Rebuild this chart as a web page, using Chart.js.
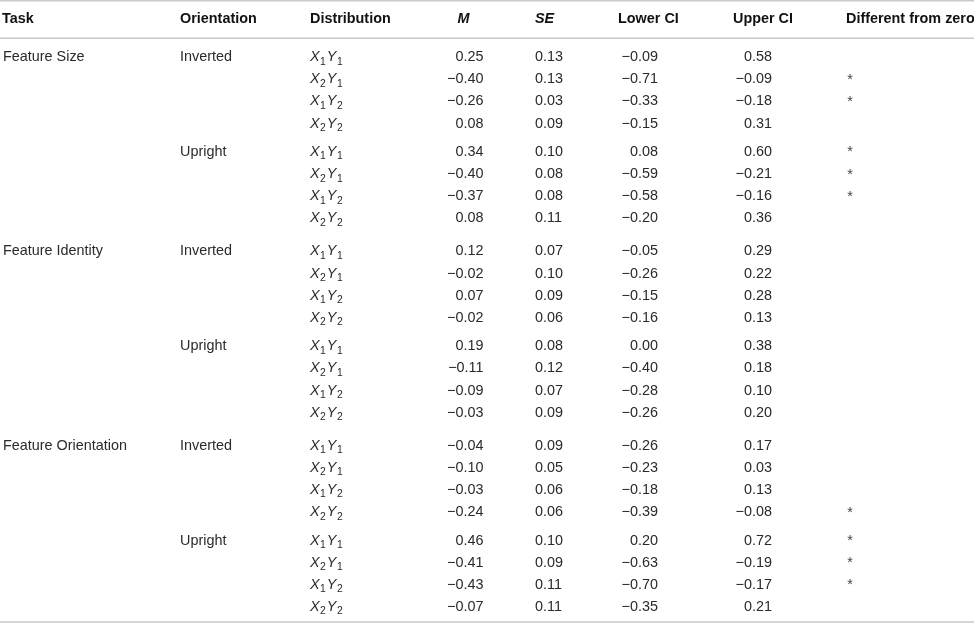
<!DOCTYPE html>
<html>
<head>
<meta charset="utf-8">
<script src="https://cdn.jsdelivr.net/npm/chart.js@4.4.1/dist/chart.umd.min.js"></script>
<style>
html,body{margin:0;padding:0;background:#fff;}
#wrap{width:974px;height:624px;}
</style>
</head>
<body>
<div id="wrap"><canvas id="c" width="974" height="624"></canvas></div>
<script>
// ---------------- DATA ----------------
const headers = ["Task", "Orientation", "Distribution", "M", "SE", "Lower CI", "Upper CI", "Different from zero"];
const tasks = ["Feature Size", "Feature Identity", "Feature Orientation"];
const orientations = ["Inverted", "Upright"];
const distributions = [["X", "1", "Y", "1"], ["X", "2", "Y", "1"], ["X", "1", "Y", "2"], ["X", "2", "Y", "2"]];
const meanValues = [0.25, -0.40, -0.26, 0.08, 0.34, -0.40, -0.37, 0.08,
                    0.12, -0.02, 0.07, -0.02, 0.19, -0.11, -0.09, -0.03,
                    -0.04, -0.10, -0.03, -0.24, 0.46, -0.41, -0.43, -0.07];
const seValues = [0.13, 0.13, 0.03, 0.09, 0.10, 0.08, 0.08, 0.11,
                  0.07, 0.10, 0.09, 0.06, 0.08, 0.12, 0.07, 0.09,
                  0.09, 0.05, 0.06, 0.06, 0.10, 0.09, 0.11, 0.11];
const lowerCI = [-0.09, -0.71, -0.33, -0.15, 0.08, -0.59, -0.58, -0.20,
                 -0.05, -0.26, -0.15, -0.16, 0.00, -0.40, -0.28, -0.26,
                 -0.26, -0.23, -0.18, -0.39, 0.20, -0.63, -0.70, -0.35];
const upperCI = [0.58, -0.09, -0.18, 0.31, 0.60, -0.21, -0.16, 0.36,
                 0.29, 0.22, 0.28, 0.13, 0.38, 0.18, 0.10, 0.20,
                 0.17, 0.03, 0.13, -0.08, 0.72, -0.19, -0.17, 0.21];
const differentFromZero = [0, 1, 1, 0, 1, 1, 1, 0,
                           0, 0, 0, 0, 0, 0, 0, 0,
                           0, 0, 0, 1, 1, 1, 1, 0];

// ---------------- LAYOUT (not data) ----------------
const FONT = '"Liberation Sans", Arial, Helvetica, sans-serif';
const SIZE = 14.4;
const TEXT_COLOR = '#2a2a2a';
const HEAD_COLOR = '#111';
const STAR_COLOR = '#444';
const RULE_COLOR = '#c9c9c9';
// column anchors in x-axis units (0..974 across the table)
const COLS = [
  {anchor: 3,     align: 'left'},   // Task
  {anchor: 180,   align: 'left'},   // Orientation
  {anchor: 310,   align: 'left'},   // Distribution
  {anchor: 483.5, align: 'right'},  // M
  {anchor: 535,   align: 'left'},   // SE
  {anchor: 658,   align: 'right'},  // Lower CI
  {anchor: 772,   align: 'right'},  // Upper CI
  {anchor: 850,   align: 'center'}  // Different from zero
];
const HEAD_POS = [2, 180, 310, 463.5, 535, 618, 733, 846];
const HEAD_ALIGN = ['left','left','left','center','left','left','left','left'];
const HEAD_STYLE = ['', '', '', 'italic', 'italic', '', '', ''];
// y-axis units are rows; extra gaps separate orientation / task groups
const ORIENT_GAP = 0.28, TASK_GAP = 0.49;
const Y_MIN = -2.528, Y_MAX = 25.643;
const HEADER_ROW = -1.716, TOP_RULE = -2.494, HEAD_RULE = -0.799, BOTTOM_RULE = 25.553;

const nPerOrient = distributions.length;
const nPerTask = nPerOrient * orientations.length;
function rowPos(k) {
  const t = Math.floor(k / nPerTask);                 // task breaks before row k
  const oInTask = Math.floor((k % nPerTask) / nPerOrient);
  const o = t * (orientations.length - 1) + oInTask;  // orientation breaks inside tasks
  return k + ORIENT_GAP * o + TASK_GAP * t;
}
const fmt = v => v.toFixed(2).replace('-', '\u2212');
const nRows = meanValues.length;

function cellDataset(col, labelFn, kind) {
  const pts = [], labels = [];
  for (let k = 0; k < nRows; k++) {
    const lab = labelFn(k);
    if (lab === null) continue;
    pts.push({x: COLS[col].anchor, y: rowPos(k)});
    labels.push(lab);
  }
  return {type: 'scatter', data: pts, cellLabels: labels, cellCol: col, cellKind: kind,
          pointRadius: 0, pointHoverRadius: 0, showLine: false};
}
const datasets = [
  cellDataset(0, k => (k % nPerTask === 0) ? tasks[Math.floor(k / nPerTask)] : null, 'text'),
  cellDataset(1, k => (k % nPerOrient === 0) ? orientations[Math.floor(k / nPerOrient) % orientations.length] : null, 'text'),
  cellDataset(2, k => distributions[k % nPerOrient], 'dist'),
  cellDataset(3, k => fmt(meanValues[k]), 'text'),
  cellDataset(4, k => fmt(seValues[k]), 'text'),
  cellDataset(5, k => fmt(lowerCI[k]), 'text'),
  cellDataset(6, k => fmt(upperCI[k]), 'text'),
  cellDataset(7, k => differentFromZero[k] ? '*' : null, 'star'),
  {type: 'scatter', data: HEAD_POS.map(x => ({x: x, y: HEADER_ROW})), cellLabels: headers, cellKind: 'head',
   pointRadius: 0, pointHoverRadius: 0, showLine: false}
];
[TOP_RULE, HEAD_RULE, BOTTOM_RULE].forEach(y => {
  datasets.push({type: 'line', data: [{x: 0, y: y}, {x: 974, y: y}], borderColor: RULE_COLOR,
                 borderWidth: 1.5, pointRadius: 0, pointHoverRadius: 0, fill: false, clip: false});
});

const tablePlugin = {
  id: 'tableText',
  afterDatasetsDraw(chart) {
    const ctx = chart.ctx;
    ctx.save();
    chart.data.datasets.forEach((ds, i) => {
      if (!ds.cellKind) return;
      const meta = chart.getDatasetMeta(i);
      meta.data.forEach((el, j) => {
        const x = el.x, y = el.y;
        const lab = ds.cellLabels[j];
        const base = y + SIZE * 0.36;
        ctx.textBaseline = 'alphabetic';
        if (ds.cellKind === 'head') {
          ctx.fillStyle = HEAD_COLOR;
          ctx.font = `${HEAD_STYLE[j]} bold ${SIZE}px ${FONT}`;
          ctx.textAlign = HEAD_ALIGN[j];
          ctx.fillText(lab, x, base);
        } else if (ds.cellKind === 'dist') {
          ctx.fillStyle = TEXT_COLOR;
          ctx.textAlign = 'left';
          let cx = x;
          lab.forEach((part, p) => {
            if (p % 2 === 0) {
              ctx.font = `italic ${SIZE}px ${FONT}`;
              ctx.fillText(part, cx, base);
              cx += ctx.measureText(part).width;
            } else {
              ctx.font = `${SIZE * 0.72}px ${FONT}`;
              ctx.fillText(part, cx + 0.5, base + 3.5);
              cx += ctx.measureText(part).width + 1.5;
            }
          });
        } else if (ds.cellKind === 'star') {
          ctx.fillStyle = STAR_COLOR;
          ctx.font = `${SIZE}px ${FONT}`;
          ctx.textAlign = 'center';
          ctx.fillText(lab, x, base + 0.5);
        } else {
          ctx.fillStyle = TEXT_COLOR;
          ctx.font = `${SIZE}px ${FONT}`;
          ctx.textAlign = COLS[ds.cellCol].align;
          ctx.fillText(lab, x, base);
        }
      });
    });
    ctx.restore();
  }
};

new Chart(document.getElementById('c'), {
  type: 'scatter',
  data: {datasets: datasets},
  options: {
    responsive: false,
    animation: false,
    events: [],
    layout: {padding: 0},
    plugins: {legend: {display: false}, tooltip: {enabled: false}, title: {display: false}},
    scales: {
      x: {type: 'linear', min: 0, max: 974, display: false},
      y: {type: 'linear', min: Y_MIN, max: Y_MAX, reverse: true, display: false}
    }
  },
  plugins: [tablePlugin]
});
</script>
</body>
</html>
